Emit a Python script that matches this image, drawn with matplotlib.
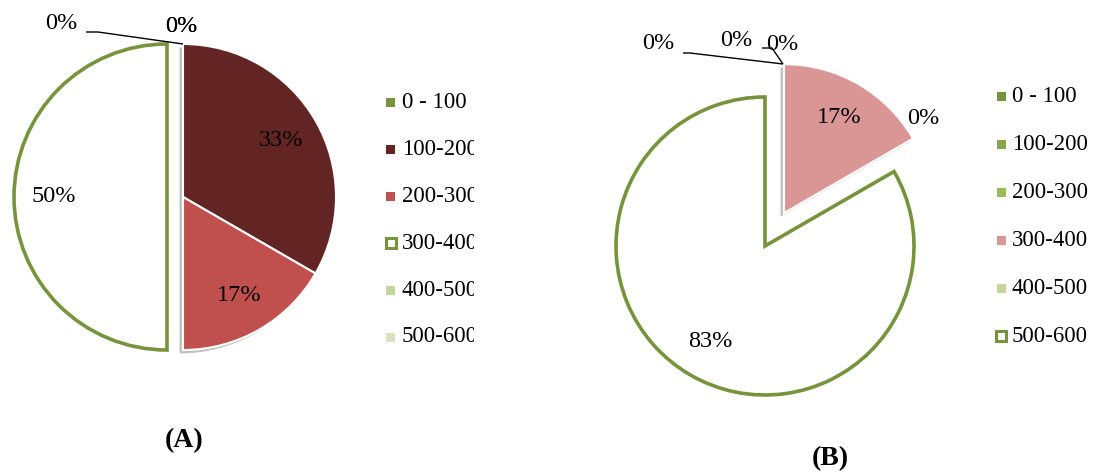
import math
import matplotlib
matplotlib.use("Agg")
import matplotlib.pyplot as plt
from matplotlib.patches import Rectangle
import matplotlib.patheffects as pe

# ---- data -------------------------------------------------------------
categories = ["0 - 100", "100-200", "200-300", "300-400", "400-500", "500-600"]
counts_a = [0, 2, 1, 3, 0, 0]
counts_b = [0, 0, 0, 1, 0, 5]
panel_titles = ["(A)", "(B)"]

colors_a = ["#77933C", "#632523", "#C0504D", "white", "#C3D69B", "#D7E4BD"]
colors_b = ["#76923C", "#8AA54A", "#9BBB59", "#D99694", "#C3D69B", "white"]
GREEN = "#77933C"

W, H = 1104, 473
plt.rcParams["font.family"] = ["Liberation Serif", "DejaVu Serif"]
FS_LABEL = 17.5
FS_LEGEND = 16.5
FS_TITLE = 20

fig = plt.figure(figsize=(W / 100, H / 100), dpi=100)


def Y(y):
    return H - y


def make_axes(x0, x1):
    ax = fig.add_axes([x0 / W, 0, (x1 - x0) / W, 1])
    return ax, (x0, x1)


def fix_limits(ax, xr):
    ax.set_xlim(*xr)
    ax.set_ylim(0, H)
    ax.set_aspect("auto")
    ax.axis("off")


def pct_text(v, total):
    return f"{round(100 * v / total)}%"


def draw_panel(ax, xr, counts, colors, center, radius, explode, outline_idx,
               zero_labels, leaders, legend_xy, title_xy, title):
    total = sum(counts)
    wedges, _ = ax.pie(counts, colors=colors, startangle=90, counterclock=False,
                       center=center, radius=radius, explode=explode,
                       wedgeprops=dict(linewidth=0), normalize=True)
    fix_limits(ax, xr)
    for i, w in enumerate(wedges):
        if i == outline_idx:
            w.set_edgecolor(GREEN)
            w.set_linewidth(2.6)
            w.set_joinstyle("miter")
        elif counts[i] > 0:
            w.set_edgecolor("white")
            w.set_linewidth(1.5)
            w.set_path_effects([pe.SimplePatchShadow(offset=(-2.5, -2.5),
                                                     shadow_rgbFace="#777777",
                                                     alpha=0.45),
                                pe.Normal()])
        # percentage labels for non-empty slices
        if counts[i] > 0:
            tm = math.radians(0.5 * (w.theta1 + w.theta2))
            cx, cy = w.center
            ax.text(cx + 0.74 * w.r * math.cos(tm), cy + 0.74 * w.r * math.sin(tm),
                    pct_text(counts[i], total), ha="center", va="center",
                    fontsize=FS_LABEL)
    # labels of empty slices
    for (x, y), idx in zero_labels:
        ax.text(x, Y(y), pct_text(counts[idx], total), ha="center",
                va="center", fontsize=FS_LABEL)
    for pts in leaders:
        ax.plot([p[0] for p in pts], [Y(p[1]) for p in pts], color="black",
                lw=1.0, solid_capstyle="butt")
    # legend
    lx, ly0, dy = legend_xy
    for i, name in enumerate(categories):
        yy = Y(ly0 + i * dy)
        if i == outline_idx:
            ax.add_patch(Rectangle((lx - 5, yy - 5), 10, 10, facecolor="white",
                                   edgecolor=GREEN, linewidth=2.2))
        else:
            ax.add_patch(Rectangle((lx - 4.5, yy - 4.5), 9, 9,
                                   facecolor=colors[i], edgecolor="none"))
        ax.text(lx + 11, yy, name, ha="left", va="center", fontsize=FS_LEGEND,
                clip_on=True)
    ax.text(title_xy[0], Y(title_xy[1]), title, ha="center", va="center",
            fontsize=FS_TITLE, fontweight="bold")
    fix_limits(ax, xr)


ax_a, xr_a = make_axes(0, 474)
draw_panel(ax_a, xr_a, counts_a, colors_a, center=(183, Y(197)), radius=153,
           explode=[0, 0, 0, 16, 0, 0], outline_idx=3,
           zero_labels=[((61, 24), 0), ((181, 27), 4), ((181.6, 27), 5)],
           leaders=[[(86, 32), (98, 32), (183, 44)]],
           legend_xy=(391, 103, 46.8), title_xy=(184, 441), title=panel_titles[0])

ax_b, xr_b = make_axes(474, W)
draw_panel(ax_b, xr_b, counts_b, colors_b, center=(765, Y(246)), radius=149,
           explode=[0, 0, 0, 38, 0, 0], outline_idx=5,
           zero_labels=[((658, 44), 0), ((736, 41), 1), ((782, 45), 2),
                        ((923, 118), 4)],
           leaders=[[(683, 53), (690, 53), (783, 64)],
                    [(762, 48), (772, 48), (783, 64)]],
           legend_xy=(1001, 97, 47.8), title_xy=(830, 459), title=panel_titles[1])

fig.savefig("out.png", dpi=100, facecolor="white")
